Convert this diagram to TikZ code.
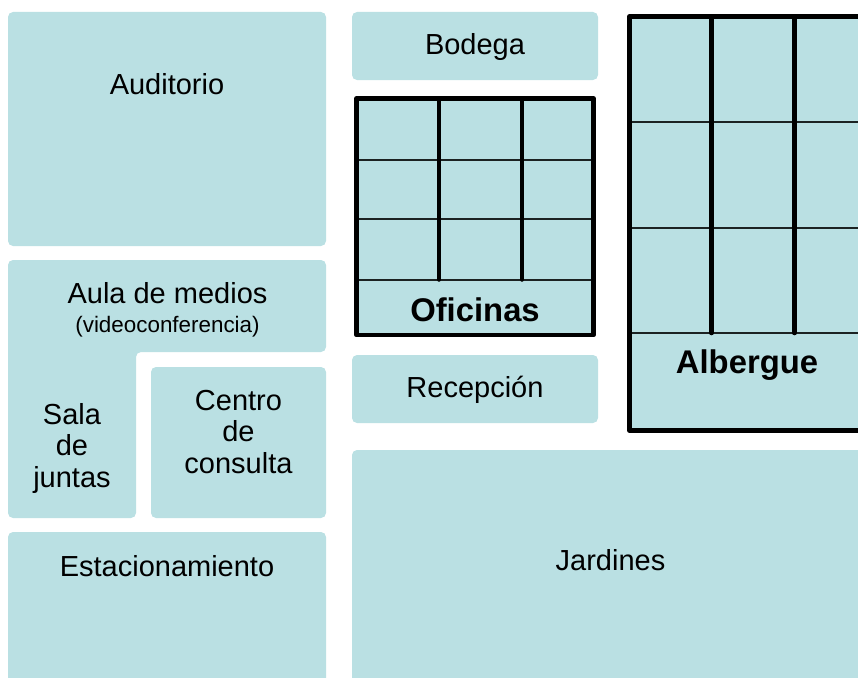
\documentclass[tikz,border=0pt]{standalone}
\usepackage{fontspec}
\setmainfont{Liberation Sans}
\definecolor{room}{HTML}{BAE0E3}
\tikzset{
  x=1pt,y=-1pt,
  roomfill/.style={fill=room,draw=none,rounded corners=5pt},
  lbl/.style={align=center,inner sep=0pt,text=black,font=\fontsize{29}{31.5}\selectfont},
  sublbl/.style={align=center,inner sep=0pt,text=black,font=\fontsize{22.4}{26}\selectfont},
  boldlbl/.style={align=center,inner sep=0pt,text=black,font=\fontsize{32.8}{38}\selectfont\bfseries},
  thick wall/.style={line width=4.5pt,draw=black,line cap=round},
  thin wall/.style={line width=2pt,draw=black!85!room}
}
\begin{document}
\begin{tikzpicture}
\useasboundingbox (0,0) rectangle (858,677);
\clip (0,0) rectangle (858,677);
% rooms
\fill[roomfill] (8,12) rectangle (326,246);
\fill[roomfill] (8,260) -- (326,260) -- (326,352) -- (136,352) -- (136,518) -- (8,518) -- cycle;
\fill[roomfill] (151,367) rectangle (326,518);
\fill[roomfill] (8,532) rectangle (326,700);
\fill[roomfill] (352,12) rectangle (598,80);
\fill[roomfill] (352,355) rectangle (598,423);
\fill[roomfill] (352,450) rectangle (880,700);
% Oficinas
\fill[room] (356.5,98.5) rectangle (593.5,335);
\draw[thin wall] (356.5,159.5) -- (593.5,159.5) (356.5,219) -- (593.5,219) (356.5,279.5) -- (593.5,279.5);
\draw[thick wall] (439,98.5) -- (439,279.5) (522,98.5) -- (522,279.5);
\draw[thick wall,line join=round] (356.5,98.5) rectangle (593.5,335);
% Albergue
\fill[room] (629.5,16.5) rectangle (880,430.5);
\draw[thin wall] (629.5,122) -- (880,122) (629.5,228) -- (880,228) (629.5,333) -- (880,333);
\draw[thick wall] (711.5,16.5) -- (711.5,333) (794.5,16.5) -- (794.5,333);
\draw[thick wall,line join=round] (880,16.5) -- (629.5,16.5) -- (629.5,430.5) -- (880,430.5);
% labels
\node[lbl] (auditorio) at (167,84) {Auditorio};
\node[lbl] (aula) at (167.5,293) {Aula de medios};
\node[sublbl] (video) at (167.5,327) {(videoconferencia)};
\node[lbl] (sala) at (72,448) {Sala\\de\\juntas};
\node[lbl] (centro) at (238.5,432) {Centro\\de\\consulta};
\node[lbl] (estac) at (167,566) {Estacionamiento};
\node[lbl] (bodega) at (475,47.5) {Bodega};
\node[boldlbl] (oficinas) at (475,310) {Oficinas};
\node[lbl] (recep) at (475,390) {Recepción};
\node[boldlbl] (albergue) at (747,365) {Albergue};
\node[lbl] (jardines) at (610.5,560) {Jardines};
\end{tikzpicture}
\end{document}
